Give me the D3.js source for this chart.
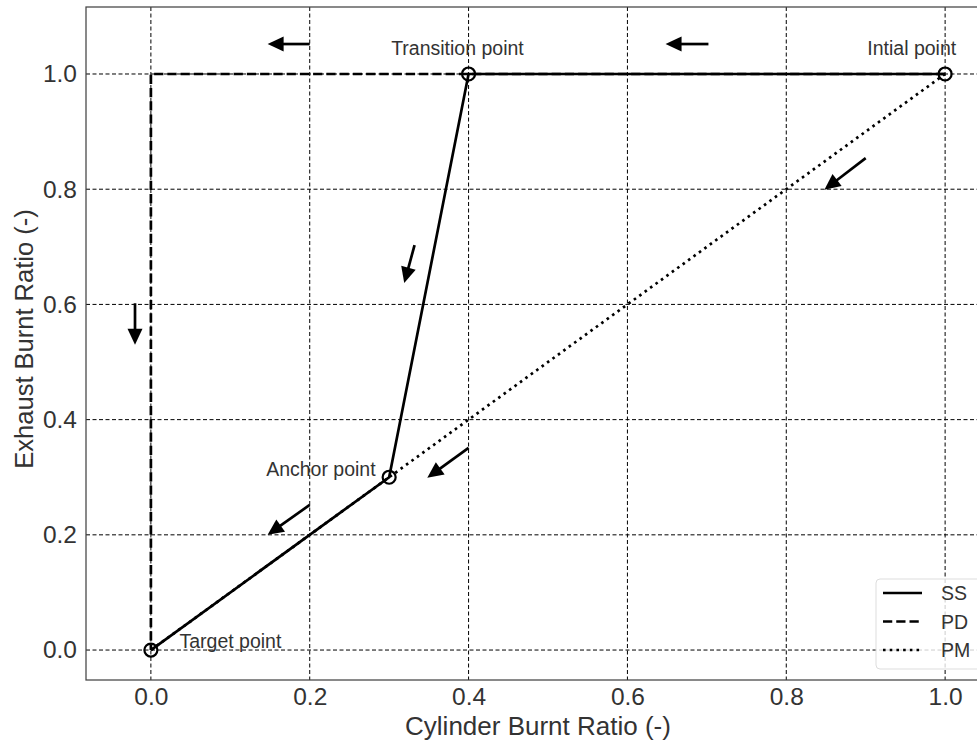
<!DOCTYPE html>
<html><head><meta charset="utf-8">
<script src="https://cdn.jsdelivr.net/npm/d3@7/dist/d3.min.js"></script>
<style>body{margin:0;background:#fff;} svg{display:block;font-family:"Liberation Sans",Arial,sans-serif;}</style>
</head><body>
<svg id="chart" width="977" height="740"></svg>
<script>
// ---- data ----
const xTicks = [0.0, 0.2, 0.4, 0.6, 0.8, 1.0];
const yTicks = [0.0, 0.2, 0.4, 0.6, 0.8, 1.0];
const ssX = [1.0, 0.4, 0.3, 0.0];
const ssY = [1.0, 1.0, 0.3, 0.0];
const pdX = [1.0, 0.0, 0.0];
const pdY = [1.0, 1.0, 0.0];
const pmX = [1.0, 0.0];
const pmY = [1.0, 0.0];
const markerX = [1.0, 0.4, 0.3, 0.0];
const markerY = [1.0, 1.0, 0.3, 0.0];
const labelText = ["Intial point", "Transition point", "Anchor point", "Target point"];
const labelX = [0.958, 0.386, 0.283, 0.036];
const labelY = [1.033, 1.033, 0.302, 0.003];
const labelAnchor = ["middle", "middle", "end", "start"];
const arrowX0 = [0.20, 0.702, -0.020, 0.332, 0.90, 0.40, 0.20];
const arrowY0 = [1.052, 1.052, 0.602, 0.703, 0.854, 0.351, 0.252];
const arrowX1 = [0.147, 0.648, -0.020, 0.319, 0.848, 0.348, 0.147];
const arrowY1 = [1.052, 1.052, 0.530, 0.637, 0.799, 0.299, 0.200];
const legendNames = ["SS", "PD", "PM"];

// ---- layout ----
const svg = d3.select("#chart");
const L = 86, T = 7, B = 680, R = 1010;
const x = d3.scaleLinear().domain([-0.0817, 1.0817]).range([L, R]);
const y = d3.scaleLinear().domain([-0.052, 1.1163]).range([B, T]);
const textCol = "#333";

// grid
const grid = svg.append("g");
grid.selectAll(".gx").data(xTicks).join("line")
  .attr("x1", d => x(d)).attr("x2", d => x(d)).attr("y1", T).attr("y2", B)
  .attr("stroke", "#000").attr("stroke-width", 1).attr("stroke-dasharray", "4,2.5");
grid.selectAll(".gy").data(yTicks).join("line")
  .attr("y1", d => y(d)).attr("y2", d => y(d)).attr("x1", L).attr("x2", R)
  .attr("stroke", "#000").attr("stroke-width", 1).attr("stroke-dasharray", "4,2.5");

// axes
const xAxis = d3.axisBottom(x).tickValues(xTicks).tickFormat(d3.format(".1f")).tickSize(0).tickPadding(8);
const yAxis = d3.axisLeft(y).tickValues(yTicks).tickFormat(d3.format(".1f")).tickSize(0).tickPadding(9);
const gx = svg.append("g").attr("transform", `translate(0,${B})`).call(xAxis);
const gy = svg.append("g").attr("transform", `translate(${L},0)`).call(yAxis);
[gx, gy].forEach(g => {
  g.select(".domain").remove();
  g.selectAll("text").attr("fill", textCol).style("font-size", "24.5px").style("font-family", '"Liberation Sans",Arial,sans-serif');
});
// spines
svg.append("rect").attr("x", L).attr("y", T).attr("width", R - L).attr("height", B - T)
  .attr("fill", "none").attr("stroke", "#444").attr("stroke-width", 1.25);

// axis labels
svg.append("text").attr("x", (L + R) / 2 - 10).attr("y", 735).attr("text-anchor", "middle")
  .attr("fill", textCol).style("font-size", "26px").text("Cylinder Burnt Ratio (-)");
svg.append("text").attr("transform", `translate(33,339) rotate(-90)`).attr("text-anchor", "middle")
  .attr("fill", textCol).style("font-size", "25.5px").text("Exhaust Burnt Ratio (-)");

// lines
const lineGen = d3.line().x(d => x(d[0])).y(d => y(d[1]));
const series = [
  {name: "SS", xs: ssX, ys: ssY, dash: null},
  {name: "PD", xs: pdX, ys: pdY, dash: "9.25,4"},
  {name: "PM", xs: pmX, ys: pmY, dash: "2.6,4.1"}
];
const plot = svg.append("g");
[series[2], series[1], series[0]].forEach(s => {
  plot.append("path").datum(s.xs.map((v, i) => [v, s.ys[i]]))
    .attr("d", lineGen).attr("fill", "none").attr("stroke", "#000").attr("stroke-width", 2.7)
    .attr("stroke-dasharray", s.dash);
});

// markers
plot.selectAll(".mk").data(markerX.map((v, i) => [v, markerY[i]])).join("circle")
  .attr("cx", d => x(d[0])).attr("cy", d => y(d[1])).attr("r", 6.5)
  .attr("fill", "none").attr("stroke", "#000").attr("stroke-width", 2.2);

// point labels
plot.selectAll(".lb").data(labelText).join("text")
  .attr("x", (d, i) => x(labelX[i])).attr("y", (d, i) => y(labelY[i]))
  .attr("text-anchor", (d, i) => labelAnchor[i])
  .attr("fill", textCol).style("font-size", "19.5px").text(d => d);

// arrows
const head = 16, hw = 7.5;
arrowX0.forEach((v, i) => {
  const px0 = x(v), py0 = y(arrowY0[i]), px1 = x(arrowX1[i]), py1 = y(arrowY1[i]);
  const dx = px1 - px0, dy = py1 - py0, len = Math.hypot(dx, dy);
  const ux = dx / len, uy = dy / len;
  const bx = px1 - ux * head, by = py1 - uy * head;
  plot.append("line").attr("x1", px0).attr("y1", py0).attr("x2", bx + ux * 2).attr("y2", by + uy * 2)
    .attr("stroke", "#000").attr("stroke-width", 2.7);
  plot.append("path")
    .attr("d", `M${px1},${py1}L${bx - uy * hw},${by + ux * hw}L${bx + uy * hw},${by - ux * hw}Z`)
    .attr("fill", "#000");
});

// legend
const lg = svg.append("g");
lg.append("rect").attr("x", 876).attr("y", 579).attr("width", 140).attr("height", 90).attr("rx", 4)
  .attr("fill", "#fff").attr("fill-opacity", 0.8).attr("stroke", "#ddd").attr("stroke-width", 1);
legendNames.forEach((n, i) => {
  const s = series[i];
  const yy = 593 + i * 28.5;
  lg.append("line").attr("x1", 883).attr("x2", 922).attr("y1", yy).attr("y2", yy)
    .attr("stroke", "#000").attr("stroke-width", 2.7).attr("stroke-dasharray", s.dash);
  lg.append("text").attr("x", 941).attr("y", yy + 7).attr("fill", textCol)
    .style("font-size", "19.5px").text(n);
});
</script>
</body></html>
